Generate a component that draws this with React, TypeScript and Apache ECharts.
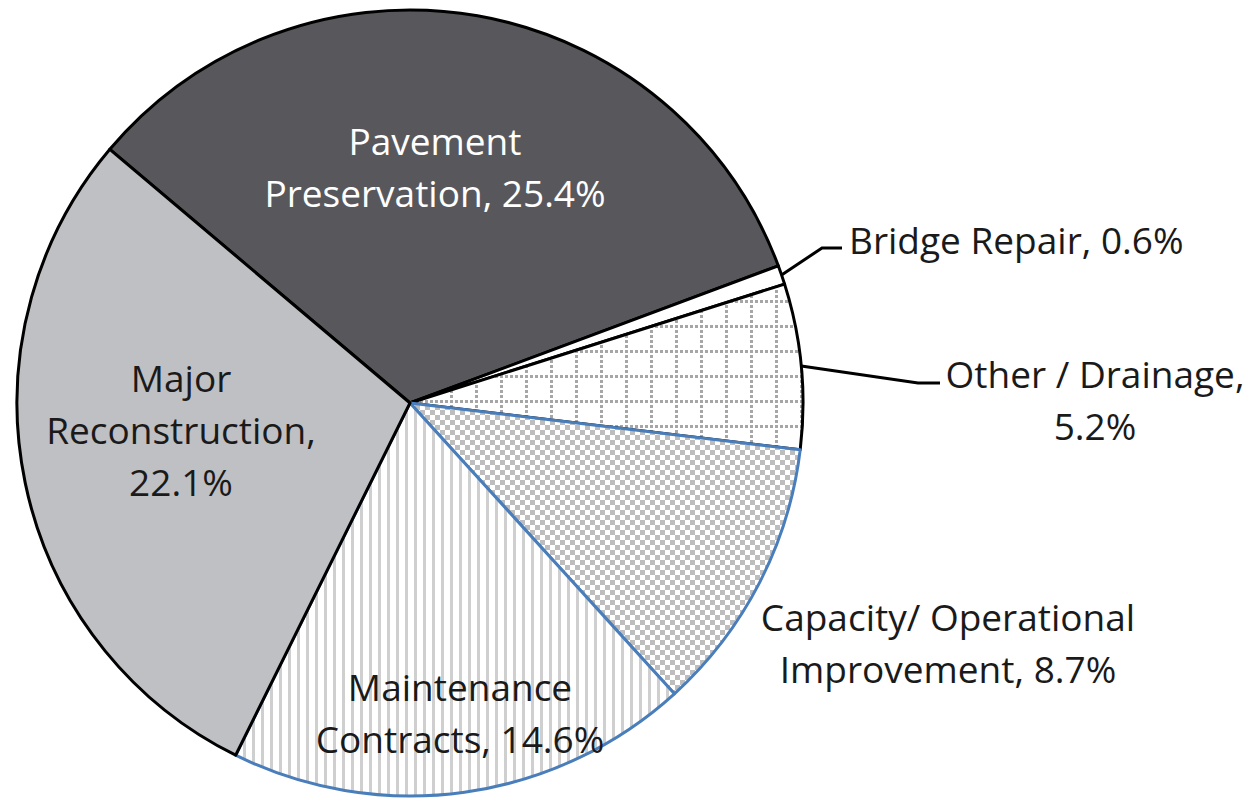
import { useEffect, useRef } from 'react';
import * as echarts from 'echarts';

// ---- data ----
const CATEGORIES = [
  'Pavement\nPreservation',
  'Bridge Repair',
  'Other / Drainage',
  'Capacity/ Operational\nImprovement',
  'Maintenance\nContracts',
  'Major\nReconstruction',
];
const VALUES = [25.4, 0.6, 5.2, 8.7, 14.6, 22.1];
const SEPARATORS = [', ', ', ', ',\n', ', ', ', ', ',\n'];

// ---- layout / style ----
const CX = 410;
const CY = 403;
const R = 393;
const START_ANGLE = 139.8;
const FONT = 'Open Sans';
const FONT_SIZE = 37;
const LINE_H = 52;

// label anchor [x, y, align]
const LABEL_ANCHORS: [number, number, string][] = [
  [435, 166, 'center'],
  [849, 239, 'left'],
  [1095, 399, 'center'],
  [948, 642, 'center'],
  [460, 712, 'center'],
  [181, 429, 'center'],
];
// leader elbows (null = no line)
const ELBOWS: ([number, number][] | null)[] = [
  null,
  [[822, 248], [842, 248]],
  [[918, 383], [940, 383]],
  null,
  null,
  null,
];

function makePattern(w: number, h: number, draw: (ctx: CanvasRenderingContext2D) => void) {
  const c = document.createElement('canvas');
  c.width = w;
  c.height = h;
  const ctx = c.getContext('2d') as CanvasRenderingContext2D;
  ctx.fillStyle = '#ffffff';
  ctx.fillRect(0, 0, w, h);
  draw(ctx);
  return { image: c.toDataURL(), imageWidth: w, imageHeight: h, repeat: 'repeat' };
}

function midAngleDeg(i: number) {
  const total = VALUES.reduce((a, b) => a + b, 0);
  let cum = 0;
  for (let k = 0; k < i; k++) cum += VALUES[k];
  return START_ANGLE - ((cum + VALUES[i] / 2) / total) * 360;
}

export default function App() {
  const ref = useRef<HTMLDivElement>(null);

  useEffect(() => {
    if (!ref.current) return;
    const chart = echarts.init(ref.current, undefined, { renderer: 'svg' });

    const gridPat = makePattern(25, 25, (ctx) => {
      ctx.fillStyle = '#a6a6a6';
      for (let i = 0; i < 25; i += 5) {
        ctx.fillRect(i, 0, 3, 3);
        ctx.fillRect(0, i, 3, 3);
      }
    });
    const checkPat = makePattern(10, 10, (ctx) => {
      ctx.fillStyle = '#bdbdbd';
      ctx.fillRect(0, 0, 5, 5);
      ctx.fillRect(5, 5, 5, 5);
    });
    const stripePat = makePattern(9, 9, (ctx) => {
      ctx.fillStyle = '#cfcfcf';
      ctx.fillRect(0, 0, 3, 9);
    });

    const fills: any[] = ['#58585c', '#ffffff', gridPat, checkPat, stripePat, '#bfc0c3'];
    const borders = ['#000000', '#000000', '#000000', '#4a7ebb', '#4a7ebb', '#000000'];
    const textColors = ['#ffffff', '#1a1a1a', '#1a1a1a', '#1a1a1a', '#1a1a1a', '#1a1a1a'];
    const outside = [false, true, true, true, false, false];

    const data = CATEGORIES.map((name, i) => ({
      name,
      value: VALUES[i],
      itemStyle: { color: fills[i], borderColor: borders[i], borderWidth: 3 },
      label: {
        position: outside[i] ? 'outside' : 'inside',
        color: textColors[i],
      },
      labelLine: { show: !!ELBOWS[i] },
    }));

    chart.setOption({
      animation: false,
      backgroundColor: '#ffffff',
      series: [
        {
          type: 'pie',
          center: [CX, CY],
          radius: [0, R],
          startAngle: START_ANGLE,
          clockwise: true,
          silent: true,
          avoidLabelOverlap: false,
          data,
          label: {
            show: true,
            fontFamily: FONT,
            fontSize: FONT_SIZE,
            lineHeight: LINE_H,
            align: 'center',
            formatter: (p: any) => `${p.name}${SEPARATORS[p.dataIndex]}${p.value}%`,
          },
          labelLine: {
            show: true,
            smooth: false,
            lineStyle: { color: '#000000', width: 3 },
          },
          labelLayout: (p: any) => {
            const i = p.dataIndex;
            const a = LABEL_ANCHORS[i];
            const res: any = { x: a[0], y: a[1], align: a[2], verticalAlign: 'middle' };
            const el = ELBOWS[i];
            if (el) {
              const ang = (midAngleDeg(i) * Math.PI) / 180;
              const ex = CX + R * Math.cos(ang);
              const ey = CY - R * Math.sin(ang);
              res.labelLinePoints = [[ex, ey], el[0], el[1]];
            }
            return res;
          },
          emphasis: { disabled: true },
        },
      ],
    });

    return () => chart.dispose();
  }, []);

  return (
    <div
      ref={ref}
      style={{ position: 'fixed', left: 0, top: 0, width: 1251, height: 798, background: '#fff' }}
    />
  );
}
